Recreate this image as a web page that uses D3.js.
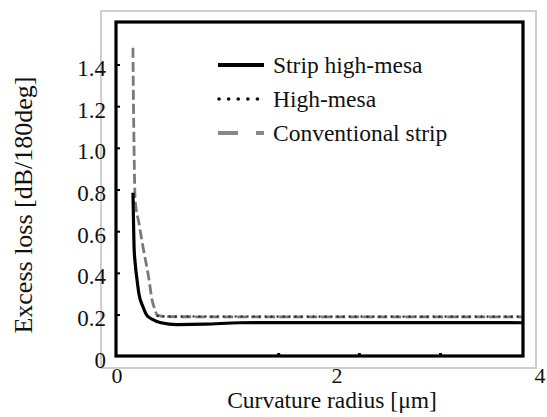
<!DOCTYPE html>
<html>
<head>
<meta charset="utf-8">
<script src="https://cdn.jsdelivr.net/npm/d3@7"></script>
<style>
  body { margin: 0; background: #fff; }
  svg text { font-family: "Liberation Serif", "DejaVu Serif", serif; fill: #111; }
</style>
</head>
<body>
<svg id="chart"></svg>
<script>
// values
const seriesNames = ['Strip high-mesa', 'High-mesa', 'Conventional strip'];

const stripHighMesa = [
  [0.145, 0.787], [0.15, 0.65], [0.155, 0.528], [0.165, 0.45], [0.182, 0.37],
  [0.2, 0.3], [0.236, 0.24], [0.27, 0.2], [0.327, 0.178], [0.4, 0.163],
  [0.545, 0.154], [0.8, 0.156], [1.118, 0.163], [1.5, 0.164], [2.5, 0.164], [3.83, 0.163]
];

const highMesa = [
  [0.36, 0.196], [0.45, 0.193], [1.0, 0.193], [2.0, 0.192], [3.0, 0.192], [3.83, 0.192]
];

const conventionalStrip = [
  [0.145, 1.483], [0.15, 1.2], [0.155, 1.0], [0.165, 0.754], [0.2, 0.64],
  [0.236, 0.528], [0.291, 0.37], [0.318, 0.274], [0.345, 0.226], [0.364, 0.2],
  [0.45, 0.192], [1.5, 0.191], [3.83, 0.191]
];

const yTicks = [0, 0.2, 0.4, 0.6, 0.8, 1.0, 1.2, 1.4];
const yTickLabels = ['0', '0.2', '0.4', '0.6', '0.8', '1.0', '1.2', '1.4'];
const xTicks = [0, 2, 4];
const xTickLabels = ['0', '2', '4'];
const xMinorTicks = [1.47, 2.22, 3.02];

document.addEventListener('DOMContentLoaded', function() {
  drawChart();
});

function drawChart() {
  const width = 547;
  const height = 417;
  const serif = '"Liberation Serif", "DejaVu Serif", serif';

  const svg = d3.select('#chart')
    .attr('width', width)
    .attr('height', height);

  svg.append('rect')
    .attr('width', width)
    .attr('height', height)
    .attr('fill', '#fff');

  // the original axis is not quite linear, so use three stops
  const xScale = d3.scaleLinear()
    .domain([0, 2, 4])
    .range([117, 337, 540]);

  const yScale = d3.scaleLinear()
    .domain([0, 1.4])
    .range([356.7, 65]);

  const frame = { left: 116, right: 523, top: 22, bottom: 356 };

  // light outer border
  svg.append('rect')
    .attr('x', 101)
    .attr('y', 11)
    .attr('width', 435)
    .attr('height', 357)
    .attr('fill', 'none')
    .attr('stroke', '#cfcfcf')
    .attr('stroke-width', 2);

  svg.append('clipPath')
    .attr('id', 'plot-clip')
    .append('rect')
    .attr('x', frame.left)
    .attr('y', frame.top)
    .attr('width', frame.right - frame.left)
    .attr('height', frame.bottom - frame.top);

  const line = d3.line()
    .x(d => xScale(d[0]))
    .y(d => yScale(d[1]))
    .curve(d3.curveMonotoneX);

  const plot = svg.append('g').attr('clip-path', 'url(#plot-clip)');

  plot.append('path')
    .datum(conventionalStrip)
    .attr('d', line)
    .attr('fill', 'none')
    .attr('stroke', '#7a7a7a')
    .attr('stroke-width', 2.8)
    .attr('stroke-dasharray', '10,4');

  plot.append('path')
    .datum(highMesa)
    .attr('d', line)
    .attr('fill', 'none')
    .attr('stroke', '#222')
    .attr('stroke-width', 2.2)
    .attr('stroke-dasharray', '2,4');

  plot.append('path')
    .datum(stripHighMesa)
    .attr('d', line)
    .attr('fill', 'none')
    .attr('stroke', '#000')
    .attr('stroke-width', 3.2);

  // black frame
  svg.append('rect')
    .attr('x', frame.left)
    .attr('y', frame.top)
    .attr('width', frame.right - frame.left)
    .attr('height', frame.bottom - frame.top)
    .attr('fill', 'none')
    .attr('stroke', '#000')
    .attr('stroke-width', 3.2);

  // small inward tick marks
  svg.selectAll('.ytick')
    .data(yTicks.slice(1))
    .enter()
    .append('line')
    .attr('class', 'ytick')
    .attr('x1', frame.left)
    .attr('x2', frame.left + 4)
    .attr('y1', d => yScale(d))
    .attr('y2', d => yScale(d))
    .attr('stroke', '#000')
    .attr('stroke-width', 2);

  svg.selectAll('.xtick')
    .data(xMinorTicks)
    .enter()
    .append('line')
    .attr('class', 'xtick')
    .attr('x1', d => xScale(d))
    .attr('x2', d => xScale(d))
    .attr('y1', frame.bottom)
    .attr('y2', frame.bottom - 3)
    .attr('stroke', '#000')
    .attr('stroke-width', 3);

  // tick labels
  svg.selectAll('.ylabel')
    .data(yTicks)
    .enter()
    .append('text')
    .attr('class', 'ylabel')
    .attr('x', 106)
    .attr('y', d => yScale(d) + 11)
    .attr('text-anchor', 'end')
    .attr('font-family', serif)
    .style('font-size', '23px')
    .text((d, i) => yTickLabels[i]);

  svg.selectAll('.xlabel')
    .data(xTicks)
    .enter()
    .append('text')
    .attr('class', 'xlabel')
    .attr('x', d => xScale(d))
    .attr('y', 383)
    .attr('text-anchor', 'middle')
    .attr('font-family', serif)
    .style('font-size', '22px')
    .text((d, i) => xTickLabels[i]);

  // axis titles
  svg.append('text')
    .attr('x', 332)
    .attr('y', 408)
    .attr('text-anchor', 'middle')
    .attr('font-family', serif)
    .style('font-size', '23.5px')
    .text('Curvature radius [\u03bcm]');

  svg.append('text')
    .attr('transform', 'translate(32, 205) rotate(-90)')
    .attr('text-anchor', 'middle')
    .attr('font-family', serif)
    .style('font-size', '26px')
    .text('Excess loss [dB/180deg]');

  // legend
  const legendItems = [
    { label: seriesNames[0], color: '#000', width: 4, dash: null, cap: 'butt' },
    { label: seriesNames[1], color: '#111', width: 3.6, dash: '0.1,9.5', cap: 'round' },
    { label: seriesNames[2], color: '#888', width: 4, dash: '20,18', cap: 'butt' }
  ];

  const legend = svg.append('g')
    .attr('class', 'legend')
    .attr('transform', 'translate(218, 65)');

  const entries = legend.selectAll('.legend-entry')
    .data(legendItems)
    .enter()
    .append('g')
    .attr('class', 'legend-entry')
    .attr('transform', (d, i) => `translate(0, ${i * 34})`);

  entries.append('line')
    .attr('x1', d => d.cap === 'round' ? 1 : 0)
    .attr('x2', 46)
    .attr('y1', 0)
    .attr('y2', 0)
    .attr('stroke', d => d.color)
    .attr('stroke-width', d => d.width)
    .attr('stroke-linecap', d => d.cap)
    .attr('stroke-dasharray', d => d.dash);

  entries.append('text')
    .attr('x', 55)
    .attr('y', 8)
    .attr('font-family', serif)
    .style('font-size', '23.5px')
    .text(d => d.label);
}
</script>
</body>
</html>
